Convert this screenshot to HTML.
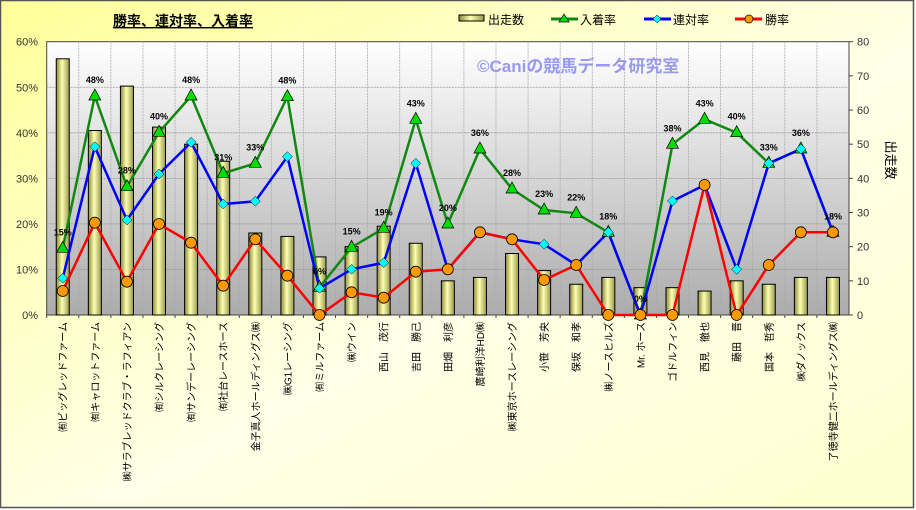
<!DOCTYPE html>
<html><head><meta charset="utf-8"><style>
html,body{margin:0;padding:0;width:916px;height:510px;overflow:hidden;background:#fff}
svg{display:block;font-family:"Liberation Sans","Noto Sans CJK JP",sans-serif}
</style></head><body>
<svg id="c" width="916" height="510" viewBox="0 0 916 510" xmlns="http://www.w3.org/2000/svg">
<defs>
<linearGradient id="bg" x1="0" y1="0" x2="1" y2="1"><stop offset="0" stop-color="#ffff99"/><stop offset="0.55" stop-color="#ffffe8"/><stop offset="1" stop-color="#ffffd0"/></linearGradient>
<linearGradient id="pl" x1="0" y1="0" x2="0" y2="1"><stop offset="0" stop-color="#ffffff"/><stop offset="1" stop-color="#acacac"/></linearGradient>
<linearGradient id="bar" x1="0" y1="0" x2="1" y2="0"><stop offset="0" stop-color="#8a8a40"/><stop offset="0.45" stop-color="#ffffb0"/><stop offset="1" stop-color="#9a9a50"/></linearGradient>
</defs>
<rect x="0.5" y="0.5" width="913" height="507" fill="url(#bg)" stroke="#555" stroke-width="1.5"/>
<rect x="46.7" y="41.7" width="802.3" height="273.3" fill="url(#pl)" stroke="#444"/>
<g id="grid"></g><g id="bars"></g><g id="lines"></g><g id="lbl"></g>
<text x="113" y="26" font-size="14" font-weight="bold" fill="#000" text-decoration="underline">勝率、連対率、入着率</text>
<text x="477" y="72" font-size="17" font-weight="bold" fill="#9999ee">©Caniの競馬データ研究室</text>
<g font-size="12" fill="#000">
<rect x="459" y="15" width="25" height="6" fill="url(#bar)" stroke="#000"/><text x="488" y="24">出走数</text>
<line x1="551" y1="19" x2="578" y2="19" stroke="#118811" stroke-width="3"/><polygon points="564,14 569,22 559,22" fill="#00dd00" stroke="#000" stroke-width="0.7"/><text x="580" y="24">入着率</text>
<line x1="644" y1="19" x2="671" y2="19" stroke="#0000ff" stroke-width="3"/><polygon points="657,15 661,19 657,23 653,19" fill="#00ffff" stroke="#000" stroke-width="0.5"/><text x="673" y="24">連対率</text>
<line x1="735" y1="19" x2="762" y2="19" stroke="#ff0000" stroke-width="3"/><circle cx="749" cy="19" r="4" fill="#ff9900" stroke="#000" stroke-width="0.7"/><text x="765" y="24">勝率</text>
</g>
<text transform="translate(886,160) rotate(90)" font-size="13" text-anchor="middle">出走数</text>
</svg>
<script>
var N=25,L=46.7,W=802.3/25,T=41.7,B=315,H=273.3;
var names=["㈲ビッグレッドファーム","㈲キャロットファーム","㈱サラブレッドクラブ・ラフィアン","㈲シルクレーシング","㈲サンデーレーシング","㈲社台レースホース","金子真人ホールディングス㈱","㈱G1レーシング","㈲ミルファーム","㈱ウイン","西山　茂行","吉田　勝己","田畑　利彦","廣崎利洋HD㈱","㈱東京ホースレーシング","小笹　芳央","保坂　和孝","㈱ノースヒルズ","Mr. ホース","ゴドルフィン","西見　徹也","藤田　晋","国本　哲秀","㈱ダノックス","了徳寺健二ホールディングス㈱"];
var cnt=[75,54,67,55,50,45,24,23,17,20,26,21,10,11,18,13,9,11,8,8,7,10,9,11,11];
var g=[248.3,96,186.7,132.3,96,173.3,163.3,96.7,287.3,247.3,228.3,119.3,224,149,189,210,213.3,232.3,315,144.3,119.3,132.7,163.3,149,232.3];
var gl=[15,48,28,40,48,31,33,48,6,15,19,43,20,36,28,23,22,18,0,38,43,40,33,36,18];
var b=[278.3,146.7,220,174,142.3,204,201.3,156.7,288.3,269.3,262.7,163.3,269.3,232.3,239.3,244.3,265,232.3,315,201,185,269.3,163.3,149,232.3];
var r=[291,222.7,281.7,224,242.7,285.7,239.3,275.7,315,292.3,297.7,271.7,269.3,232.3,239.3,280,265,315,315,315,185,315,265,232.3,232.3];
var NS="http://www.w3.org/2000/svg";
function el(p,t,a,txt){var e=document.createElementNS(NS,t);for(var k in a)e.setAttribute(k,a[k]);if(txt!=null)e.textContent=txt;document.getElementById(p).appendChild(e);return e;}
for(var i=1;i<6;i++){var y=B-H*i/6;el('grid','line',{x1:L,x2:L+802.3,y1:y,y2:y,stroke:'#999','stroke-dasharray':'2,1','stroke-width':0.8});}
for(var i=1;i<N;i++){var x=L+W*i;el('grid','line',{x1:x,x2:x,y1:T,y2:B,stroke:'#aaa','stroke-dasharray':'2,1','stroke-width':0.8});}
for(var i=0;i<=6;i++){var y=B-H*i/6;el('grid','text',{x:38,y:y+4,'font-size':11,'text-anchor':'end',fill:'#333'},(i*10)+'%');}
for(var i=0;i<=8;i++){var y=B-H*i/8;el('grid','text',{x:857,y:y+4,'font-size':11,fill:'#333'},(i*10)+'');el('grid','line',{x1:849,x2:853,y1:y,y2:y,stroke:'#444'});}
for(var i=0;i<N;i++){var cx=L+W*(i+.5);
 el('grid','line',{x1:L+W*i,x2:L+W*i,y1:B,y2:B+3,stroke:'#444'});
 var h=cnt[i]/80*H;el('bars','rect',{x:cx-6.5,y:B-h,width:13,height:h,fill:'url(#bar)',stroke:'#000','stroke-width':1});
 el('lbl','text',{transform:'translate('+(cx+4)+',322) rotate(-90)','font-size':10,'text-anchor':'end',fill:'#000'},names[i]);
}
function pts(a){return a.map(function(v,i){return (L+W*(i+.5)).toFixed(1)+','+v}).join(' ');}
el('lines','polyline',{points:pts(g),fill:'none',stroke:'#118811','stroke-width':2.5});
el('lines','polyline',{points:pts(b),fill:'none',stroke:'#0000ff','stroke-width':2.5});
el('lines','polyline',{points:pts(r),fill:'none',stroke:'#ff0000','stroke-width':2.5});
for(var i=0;i<N;i++){var cx=L+W*(i+.5);
 el('lines','polygon',{points:cx+','+(g[i]-7)+' '+(cx+6)+','+(g[i]+4)+' '+(cx-6)+','+(g[i]+4),fill:'#00dd00',stroke:'#000','stroke-width':0.7});
 el('lines','polygon',{points:cx+','+(b[i]-5)+' '+(cx+5)+','+b[i]+' '+cx+','+(b[i]+5)+' '+(cx-5)+','+b[i],fill:'#00ffff',stroke:'#000','stroke-width':0.5});
 el('lines','circle',{cx:cx,cy:r[i],r:5.5,fill:'#ff9900',stroke:'#000','stroke-width':0.8});
 el('lbl','text',{x:cx,y:g[i]-13,'font-size':9,'font-weight':'bold','text-anchor':'middle',fill:'#000'},gl[i]+'%');
}
</script>
</body></html>
